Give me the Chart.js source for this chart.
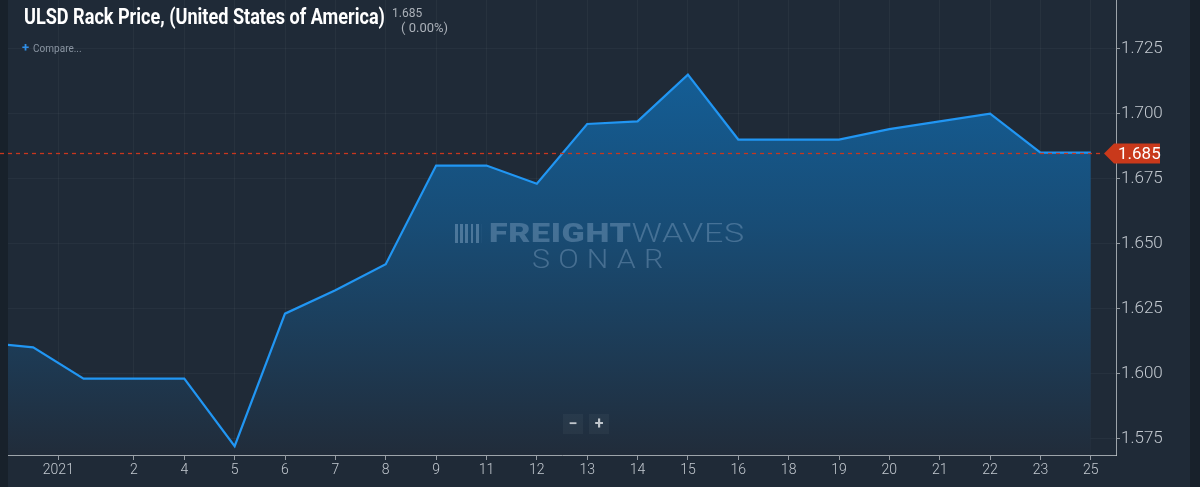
<!DOCTYPE html>
<html>
<head>
<meta charset="utf-8">
<script src="https://cdn.jsdelivr.net/npm/chart.js@4.4.1/dist/chart.umd.min.js"></script>
<style>
  html, body { margin: 0; padding: 0; background: #1f2a37; }
  #wrap { position: relative; width: 1200px; height: 487px; overflow: hidden; font-family: Roboto, sans-serif; }
  #wrap canvas { position: absolute; left: 0; top: 0; }
  .strip { position: absolute; top: 0; height: 487px; background: #18212b; }
  #title { position: absolute; left: 24px; top: 4px; color: #fff; font-weight: 700; font-size: 22px;
           white-space: nowrap; transform-origin: left top; }
  #last { position: absolute; left: 392px; top: 6px; color: #aab0b8; font-size: 12px; }
  #pct { position: absolute; left: 401px; top: 20px; color: #aab0b8; font-size: 13px; }
  #compare { position: absolute; left: 22px; top: 40px; color: #8a95a2; font-size: 10px; }
  #compare b { color: #2f8fe8; font-size: 13px; margin-right: 4px; }
  #mark { position: absolute; left: 455px; top: 218px; color: rgba(150,180,210,0.36); white-space: nowrap;
          transform-origin: left top; }
  #mark .logo { display: inline-block; width: 20px; height: 19px; vertical-align: -1px; margin-right: 6px;
                background: repeating-linear-gradient(90deg, rgba(150,180,210,0.42) 0 2px, transparent 2px 4px); }
  #mark .fw { font-size: 26px; letter-spacing: 0.5px; }
  #mark .fw b { font-weight: 900; }
  #mark .fw span { font-weight: 300; }
  #sonar { position: absolute; left: 532px; top: 244px; color: rgba(150,180,210,0.36); font-size: 26px;
           font-weight: 300; letter-spacing: 7px; white-space: nowrap; transform-origin: left top; }
  .zbtn { position: absolute; top: 414px; width: 20px; height: 20px; line-height: 19px; text-align: center;
          color: #c0c6cc; font-size: 16px; font-weight: 700; background: rgba(255,255,255,0.04); }
</style>
</head>
<body>
<div id="wrap">
  <div class="strip" style="left:0;width:8px"></div>
  <div class="strip" style="left:1190px;width:10px"></div>
  <canvas id="chart" width="1200" height="487"></canvas>
  <div id="title">ULSD Rack Price, (United States of America)</div>
  <div id="last">1.685</div>
  <div id="pct">( 0.00%)</div>
  <div id="compare"><b>+</b>Compare...</div>
  <div id="mark"><span class="logo"></span><span class="fw"><b>FREIGHT</b><span>WAVES</span></span></div>
  <div id="sonar">SONAR</div>
  <div class="zbtn" style="left:563px">−</div>
  <div class="zbtn" style="left:589px">+</div>
</div>
<script>
// daily rack price, one entry per trading day (first one is only partly visible)
const prices = [1.612, 1.610, 1.598, 1.598, 1.598, 1.572, 1.623, 1.632, 1.642, 1.680, 1.680, 1.673,
                1.696, 1.697, 1.715, 1.690, 1.690, 1.690, 1.694, 1.697, 1.700, 1.685, 1.685];

// x axis labels and the day index they sit at
const tickAt = [1.5, 3, 4, 5, 6, 7, 8, 9, 10, 11, 12, 13, 14, 15, 16, 17, 18, 19, 20, 21, 22];
const tickText = ['2021', '2', '4', '5', '6', '7', '8', '9', '11', '12', '13', '14', '15', '16', '18',
                  '19', '20', '21', '22', '23', '25'];

const yTicks = [1.575, 1.600, 1.625, 1.650, 1.675, 1.700, 1.725];

// the original uses condensed / extended faces, stretch roboto to the same widths
function fitWidth(id, w) {
    const el = document.getElementById(id);
    el.style.transform = 'scaleX(' + (w / el.offsetWidth) + ')';
}
fitWidth('title', 361);
fitWidth('mark', 290);
fitWidth('sonar', 140);

const lastPrice = {
    id: 'lastPrice',
    afterDraw(chart) {
        const { ctx, chartArea, scales } = chart;
        const y = Math.round(scales.y.getPixelForValue(prices[prices.length - 1])) + 0.5;
        ctx.save();
        ctx.strokeStyle = 'rgb(200,55,30)';
        ctx.lineWidth = 1.3;
        ctx.setLineDash([4, 4]);
        ctx.beginPath();
        ctx.moveTo(0, y);
        ctx.lineTo(chartArea.right - 12, y);
        ctx.stroke();
        ctx.setLineDash([]);

        const x0 = chartArea.right - 12;
        ctx.fillStyle = '#c9391b';
        ctx.beginPath();
        ctx.moveTo(x0, y);
        ctx.lineTo(x0 + 10, y - 10);
        ctx.lineTo(x0 + 56, y - 10);
        ctx.lineTo(x0 + 56, y + 10);
        ctx.lineTo(x0 + 10, y + 10);
        ctx.closePath();
        ctx.fill();
        ctx.fillStyle = '#ffffff';
        ctx.font = '17px Roboto, sans-serif';
        ctx.textBaseline = 'middle';
        ctx.fillText(prices[prices.length - 1].toFixed(3), x0 + 14, y + 1);
        ctx.restore();
    }
};

new Chart(document.getElementById('chart'), {
    type: 'line',
    data: {
        datasets: [{
            data: prices.map((v, i) => ({ x: i, y: v })),
            borderColor: '#2196f3',
            borderWidth: 2.2,
            pointRadius: 0,
            tension: 0,
            fill: 'start',
            backgroundColor(context) {
                const area = context.chart.chartArea;
                if (!area) return 'rgba(0,0,0,0)';
                const g = context.chart.ctx.createLinearGradient(0, area.top, 0, area.bottom);
                g.addColorStop(0, 'rgb(18,102,165)');
                g.addColorStop(0.5, 'rgb(24,76,117)');
                g.addColorStop(1, 'rgb(33,44,58)');
                return g;
            }
        }]
    },
    options: {
        responsive: false,
        animation: false,
        layout: { padding: { left: 8, top: 0, right: 0, bottom: 0 } },
        plugins: { legend: { display: false }, tooltip: { enabled: false } },
        scales: {
            x: {
                type: 'linear',
                min: 0.5,
                max: 22.5,
                afterBuildTicks(scale) { scale.ticks = tickAt.map(v => ({ value: v })); },
                afterFit(scale) { scale.height = 32; scale.paddingLeft = 0; scale.paddingRight = 0; },
                ticks: {
                    autoSkip: false,
                    maxRotation: 0,
                    padding: 2,
                    color: '#c3c9d0',
                    font: { family: 'Roboto', size: 14, weight: '300' },
                    callback: (v, i) => tickText[i]
                },
                grid: { color: 'rgba(255,255,255,0.04)', tickColor: 'rgba(200,205,210,0.7)', tickLength: 5 },
                border: { color: 'rgba(200,205,210,0.75)', width: 1 }
            },
            y: {
                type: 'linear',
                position: 'right',
                min: 1.5686,
                max: 1.7437,
                afterBuildTicks(scale) { scale.ticks = yTicks.map(v => ({ value: v })); },
                afterFit(scale) { scale.width = 84; scale.paddingTop = 0; scale.paddingBottom = 0; },
                ticks: {
                    padding: 1,
                    color: '#c3c9d0',
                    font: { family: 'Roboto', size: 17, weight: '300' },
                    callback: v => v.toFixed(3)
                },
                grid: { color: 'rgba(255,255,255,0.035)', tickColor: 'rgba(200,205,210,0.7)', tickLength: 4 },
                border: { color: 'rgba(200,205,210,0.75)', width: 1 }
            }
        }
    },
    plugins: [lastPrice]
});
</script>
</body>
</html>
